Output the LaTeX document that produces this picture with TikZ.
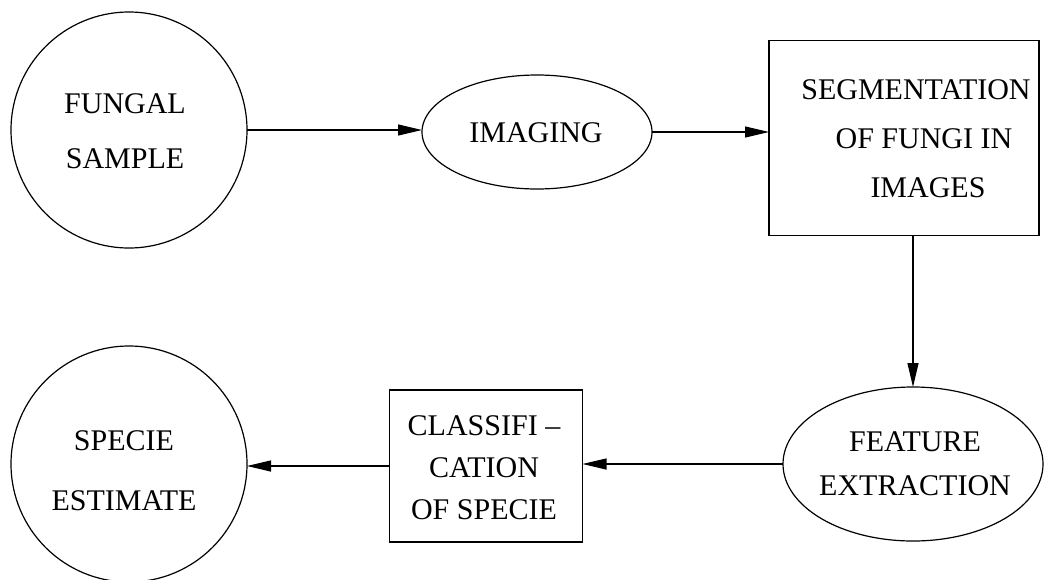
\documentclass[tikz,border=0pt]{standalone}
\usepackage{fontspec}
\setmainfont{Liberation Serif}
\usetikzlibrary{shapes.geometric,arrows.meta}
\begin{document}
\begin{tikzpicture}[x=1pt,y=-1pt,
  shapeline/.style={draw=black, line width=1.2pt, inner sep=0pt, outer sep=0pt},
  roundbox/.style={shapeline, circle, minimum size=236pt},
  ovalbox/.style={shapeline, ellipse},
  stepbox/.style={shapeline, rectangle},
  lbl/.style={align=center, inner sep=0pt},
  flow/.style={line width=1.2pt, -{Triangle[length=24pt,width=11pt]}}]
\useasboundingbox (0,0) rectangle (1054,579);

\node[roundbox] (fungal) at (129,130) {};
\node[lbl, font=\fontsize{30}{55}\selectfont] (fungaltxt) at (125,131) {FUNGAL\\SAMPLE};

\node[ovalbox, minimum width=230pt, minimum height=114pt] (imaging) at (537,132) {};
\node[lbl, font=\fontsize{30}{50}\selectfont] (imagingtxt) at (536,133) {IMAGING};

\node[stepbox, minimum width=270pt, minimum height=195pt] (seg) at (904,138) {};
\node[lbl, font=\fontsize{30}{49}\selectfont] (segtxt) at (916,139) {SEGMENTATION\\\hspace*{16pt}OF FUNGI IN\\\hspace*{24pt}IMAGES};

\node[ovalbox, minimum width=260pt, minimum height=154pt] (feat) at (913,464) {};
\node[lbl, font=\fontsize{30}{44}\selectfont] (feattxt) at (915,464) {FEATURE\\EXTRACTION};

\node[stepbox, minimum width=193pt, minimum height=152pt] (cls) at (486,466) {};
\node[lbl, font=\fontsize{30}{42}\selectfont] (clstxt) at (484,468) {CLASSIFI --\\CATION\\OF SPECIE};

\node[roundbox] (specie) at (129,464) {};
\node[lbl, font=\fontsize{30}{60}\selectfont] (specietxt) at (124,471) {SPECIE\\ESTIMATE};

\draw[flow] (fungal.east) -- (fungal.east -| imaging.west);
\draw[flow] (imaging.east) -- (imaging.east -| seg.west);
\draw[flow] (feat.north |- seg.south) -- (feat.north);
\draw[flow] (feat.west) -- (feat.west -| cls.east);
\draw[flow] (cls.west) -- (cls.west -| specie.east);
\end{tikzpicture}
\end{document}
